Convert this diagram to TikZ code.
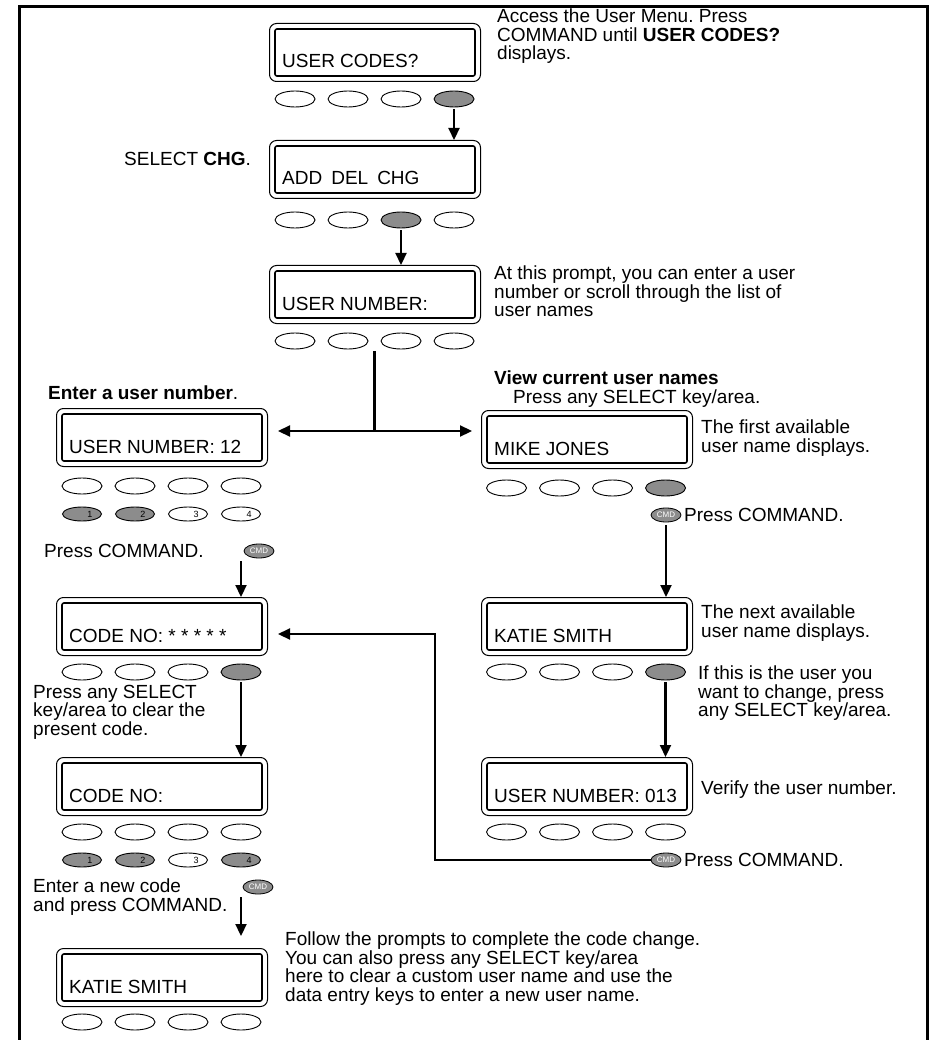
\documentclass[tikz,border=0pt]{standalone}
\usepackage{fontspec}
\setmainfont{Liberation Sans}
\frenchspacing
\usetikzlibrary{shapes,arrows.meta,positioning}
\definecolor{keygray}{gray}{0.55}
\tikzset{lcd/.style={draw,rounded corners=7pt,line width=1pt,minimum width=211pt,minimum height=58pt,inner sep=0pt},
  lcdin/.style={draw,rounded corners=2pt,line width=1.6pt},
  key/.style={ellipse,draw,line width=.9pt,minimum width=40pt,minimum height=16pt,inner sep=0pt},
  numkey/.style={ellipse,draw,line width=.9pt,minimum width=39pt,minimum height=14pt,inner sep=0pt},
  cmd/.style={ellipse,draw,line width=.8pt,fill=keygray,minimum width=30pt,minimum height=14pt,inner sep=0pt,font=\fontsize{8}{8}\selectfont,text=white},
  flow/.style={-{Triangle[width=11pt,length=12pt]},line width=2.2pt},
  note/.style={anchor=north west,inner sep=0pt,align=left,font=\fontsize{19}{18.5}\selectfont}}
% display: name, left, top, text
\newcommand\lcdbox[4]{%
  \node[lcd,anchor=north west] (#1) at (#2,#3) {};
  \draw[lcdin] ([shift={(6pt,-6pt)}]#1.north west) rectangle ([shift={(-6pt,6pt)}]#1.south east);
  \node[anchor=base west,inner sep=0pt,font=\fontsize{19}{20}\selectfont] (#1txt) at ([shift={(13pt,14pt)}]#1.south west) {#4};}
% keys below a display: name, centre, y, four fills
\newcommand\keyrow[7]{%
  \foreach \i/\dx/\f in {1/-79.5/#4,2/-26.5/#5,3/26.5/#6,4/79.5/#7}
    \node[key,fill=\f] (#1k\i) at (#2+\dx,#3) {};}
\newcommand\numrow[7]{%
  \foreach \i/\dx/\f in {1/-79.5/#4,2/-26.5/#5,3/26.5/#6,4/79.5/#7}{
    \node[numkey,fill=\f] (#1n\i) at (#2+\dx,#3) {};
    \node[inner sep=0pt,font=\fontsize{9}{9}\selectfont] at ([xshift=8pt]#1n\i.center) {\i};}}

\begin{document}
\begin{tikzpicture}[x=1pt,y=-1pt]
  \useasboundingbox (0,0) rectangle (934,1040);
  \draw[line width=2.5pt] (19.5,1050) -- (19.5,6.5) -- (927.5,6.5) -- (927.5,1050);

  % middle column
  \lcdbox{b1}{269}{23}{USER CODES?}
  \keyrow{b1}{374.5}{99}{white}{white}{white}{keygray}
  \lcdbox{b2}{269}{140}{ADD\hspace{9pt}DEL\hspace{9pt}CHG}
  \keyrow{b2}{374.5}{220}{white}{white}{keygray}{white}
  \lcdbox{b3}{269}{265}{USER NUMBER:}
  \keyrow{b3}{374.5}{341}{white}{white}{white}{white}

  \node[note] (access) at (497,9) {Access the User Menu. Press\\COMMAND until \textbf{USER CODES?}\\displays.};
  \node[note,anchor=base west] (select) at (124,166) {SELECT \textbf{CHG}.};
  \node[note] (prompt) at (494,266) {At this prompt, you can enter a user\\number or scroll through the list of\\user names};

  \draw[flow] ([yshift=-2pt]b1k4.south) -- (b1k4 |- b2.north);
  \draw[flow] ([yshift=-2pt]b2k3.south) -- (b2k3 |- b3.north);

  \coordinate (forktop) at (374.5,351);
  \coordinate (fork) at (374.5,431);
  \draw[line width=2.2pt] (forktop) -- (fork);

  % left column
  \node[note,anchor=base west] (enter) at (48,399) {\textbf{Enter a user number}.};
  \lcdbox{l1}{56}{408}{USER NUMBER: 12}
  \keyrow{l1}{161.5}{486}{white}{white}{white}{white}
  \numrow{l1}{161.5}{514}{keygray}{keygray}{white}{white}
  \node[note,anchor=base west] (presl) at (44,557) {Press COMMAND.};
  \node[cmd] (l1cmd) at (259,551) {CMD};
  \lcdbox{l2}{56}{597}{CODE NO: * * * * *}
  \keyrow{l2}{161.5}{672}{white}{white}{white}{keygray}
  \node[note] (clear) at (33,685) {Press any SELECT\\key/area to clear the\\present code.};
  \lcdbox{l3}{56}{757}{CODE NO:}
  \keyrow{l3}{161.5}{832}{white}{white}{white}{white}
  \numrow{l3}{161.5}{860}{keygray}{keygray}{white}{keygray}
  \node[note] (newcode) at (33,879) {Enter a new code\\and press COMMAND.};
  \node[cmd] (l3cmd) at (258,887) {CMD};
  \lcdbox{l4}{56}{948}{KATIE SMITH}
  \keyrow{l4}{161.5}{1022}{white}{white}{white}{white}
  \node[note] (follow) at (285,932) {Follow the prompts to complete the code change.\\You can also press any SELECT key/area\\here to clear a custom user name and use the\\data entry keys to enter a new user name.};

  \draw[flow] ([yshift=-3pt]l1cmd.south -| l1k4) -- (l1k4 |- l2.north);
  \draw[flow] ([yshift=-2pt]l2k4.south) -- (l2k4 |- l3.north);
  \draw[flow,shorten >=12pt] ([yshift=-3pt]l3cmd.south -| l3k4) -- (l3k4 |- l4.north);

  % right column
  \node[note,anchor=base west] (view) at (494,384) {\textbf{View current user names}};
  \node[note,anchor=base west] (anykey) at (513,403) {Press any SELECT key/area.};
  \lcdbox{r1}{481}{410}{MIKE JONES}
  \keyrow{r1}{586}{488}{white}{white}{white}{keygray}
  \node[note] (first) at (701,420) {The first available\\user name displays.};
  \node[cmd] (r1cmd) at (666,515) {CMD};
  \node[note,anchor=base west] (presr1) at (684,521) {Press COMMAND.};
  \lcdbox{r2}{481}{597}{KATIE SMITH}
  \keyrow{r2}{586}{672}{white}{white}{white}{keygray}
  \node[note] (next) at (701,605) {The next available\\user name displays.};
  \node[note] (ifthis) at (698,666) {If this is the user you\\want to change, press\\any SELECT key/area.};
  \lcdbox{r3}{481}{757}{USER NUMBER: 013}
  \keyrow{r3}{586}{832}{white}{white}{white}{white}
  \node[note,anchor=base west] (verify) at (701,794) {Verify the user number.};
  \node[cmd] (r3cmd) at (666,860) {CMD};
  \node[note,anchor=base west] (presr3) at (684,866) {Press COMMAND.};

  \draw[flow] ([yshift=-3pt]r1cmd.south) -- (r1cmd |- r2.north);
  \draw[flow] ([yshift=-2pt]r2k4.south) -- (r2k4 |- r3.north);

  % fork and return line
  \draw[flow] (fork) -- ([xshift=10pt]fork -| l1.east);
  \draw[flow] (fork) -- ([xshift=-9pt]fork -| r1.west);
  \coordinate (loop) at (435,634);
  \draw[flow] (r3cmd.west) -| (loop) -- ([xshift=10pt]loop -| l2.east);
\end{tikzpicture}
\end{document}
